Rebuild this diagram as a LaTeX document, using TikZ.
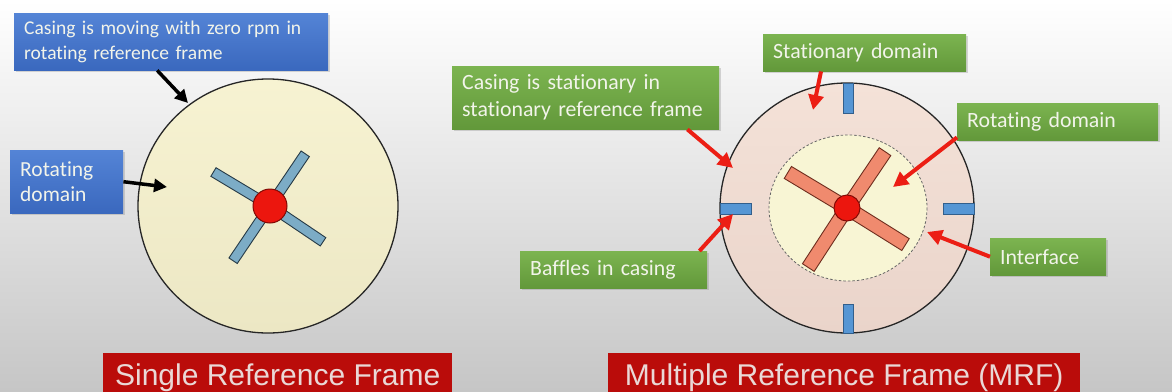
\documentclass[tikz,border=0pt]{standalone}
\usepackage{fontspec}
\setmainfont{Carlito}[Ligatures=NoCommon]
\newfontfamily\titlefont{Liberation Sans}
\usetikzlibrary{arrows.meta,shadows}
\definecolor{bgbottom}{RGB}{198,198,198}
\definecolor{casingyellow}{RGB}{247,243,210}
\definecolor{casingyellowB}{RGB}{236,231,196}
\definecolor{statpink}{RGB}{244,226,216}
\definecolor{statpinkB}{RGB}{234,212,202}
\definecolor{coreyellow}{RGB}{248,245,212}
\definecolor{bladeblue}{RGB}{124,172,198}
\definecolor{bladeblueedge}{RGB}{38,58,70}
\definecolor{bladesalmon}{RGB}{240,138,110}
\definecolor{bladesalmonedge}{RGB}{110,45,30}
\definecolor{hubred}{RGB}{236,22,14}
\definecolor{hubedge}{RGB}{130,10,5}
\definecolor{baffleblue}{RGB}{86,150,212}
\definecolor{baffleedge}{RGB}{50,95,140}
\definecolor{noteblueA}{RGB}{84,132,214}
\definecolor{noteblueB}{RGB}{58,104,190}
\definecolor{notegreenA}{RGB}{124,180,80}
\definecolor{notegreenB}{RGB}{98,152,58}
\definecolor{notetext}{RGB}{242,244,234}
\definecolor{bannerred}{RGB}{186,12,10}
\definecolor{bannertext}{RGB}{234,216,214}
\definecolor{arrowred}{RGB}{236,30,20}

\begin{document}
\begin{tikzpicture}[x=1pt,y=-1pt,
  note/.style={anchor=north west,inner xsep=10pt,inner ysep=0pt,align=left,text=notetext,
    drop shadow={shadow xshift=1.5pt,shadow yshift=-1.5pt,opacity=.3}},
  bluenote/.style={note,top color=noteblueA,bottom color=noteblueB,font=\fontsize{19.5}{24.5}\selectfont},
  greennote/.style={note,top color=notegreenA,bottom color=notegreenB,font=\fontsize{21.8}{27}\selectfont},
  banner/.style={anchor=north west,fill=bannerred,text=bannertext,inner ysep=10pt,
    text height=22pt,text depth=7pt,font=\titlefont\fontsize{30}{36}\selectfont},
  blackarrow/.style={line width=3.5pt,-{Triangle[length=13pt,width=13pt]}},
  redarrow/.style={draw=arrowred,line width=4pt,-{Triangle[length=15pt,width=15pt]}},
  hub/.style={circle,fill=hubred,draw=hubedge,line width=1pt,inner sep=0pt},
  baffle/.style={fill=baffleblue,draw=baffleedge,line width=.8pt}]

\useasboundingbox (0,0) rectangle (1172,391);
\clip (0,0) rectangle (1172,391);
\shade[top color=white,bottom color=bgbottom] (0,0) rectangle (1172,391);

% single reference frame
\shade[top color=casingyellow,bottom color=casingyellowB,draw=black!85,line width=1.3pt]
  (268,206) ellipse [x radius=130,y radius=127];
\begin{scope}[shift={(270,206)}]
\foreach \a/\l in {56/63,149/66,-34/64,-124/66}
  \draw[fill=bladeblue,draw=bladeblueedge,line width=.9pt,rotate=\a] (0,-5) rectangle (\l,5);
\end{scope}
\node[hub,minimum size=34pt] (hubL) at (270,206) {};

% multiple reference frame
\shade[top color=statpink,bottom color=statpinkB,draw=black!85,line width=1.3pt]
  (847,208) ellipse [x radius=127,y radius=125];
\draw[fill=coreyellow,draw=black!60,line width=.8pt,dash pattern=on 2.5pt off 2pt]
  (848,208) ellipse [x radius=79,y radius=73];
\begin{scope}[shift={(847,208)}]
\foreach \a/\l in {56/68,149/69,-32/69,-123/71}
  \draw[fill=bladesalmon,draw=bladesalmonedge,line width=.9pt,rotate=\a] (0,-7) rectangle (\l,7);
\end{scope}
\node[hub,minimum size=26pt] (hubR) at (847,208) {};
\draw[baffle] (843,83) rectangle (853,113);
\draw[baffle] (720,203) rectangle (751,214);
\draw[baffle] (943,203) rectangle (974,214);
\draw[baffle] (843,304) rectangle (853,333);

\node[bluenote,text width=294pt,minimum height=57pt] (casingRot) at (14,13)
  {Casing is moving with zero rpm in\\rotating reference frame};
\node[bluenote,text width=93pt,minimum height=63pt,font=\fontsize{21.5}{25}\selectfont] (rotL) at (10,150)
  {Rotating\\domain};

\node[greennote,text width=247pt,minimum height=63pt] (casingStat) at (452,66)
  {Casing is stationary in\\stationary reference frame};
\node[greennote,text width=183pt,minimum height=37pt] (statDom) at (763,34) {Stationary domain};
\node[greennote,text width=181pt,minimum height=37pt] (rotDom) at (957,103) {Rotating domain};
\node[greennote,text width=167pt,minimum height=37pt] (baffles) at (520,251) {Baffles in casing};
\node[greennote,text width=96pt,minimum height=37pt] (interface) at (990,238) {Interface};

\node[banner,minimum width=349pt] (srf) at (103,353) {Single Reference Frame};
\node[banner,minimum width=472pt] (mrf) at (608,353) {Multiple Reference Frame (MRF)};

\coordinate (rimL) at (188,103);
\coordinate (coreL) at (167,187);
\coordinate (rimR) at (733,168);
\coordinate (ringR) at (813,110);
\coordinate (coreR) at (893,187);
\coordinate (baffleW) at (733,214);
\coordinate (gapR) at (927,232);

\draw[blackarrow] ([xshift=-14pt]casingRot.south) -- (rimL);
\draw[blackarrow] (rotL.east) -- (coreL);
\draw[redarrow] ([xshift=-32pt]casingStat.south east) -- (rimR);
\draw[redarrow] ([xshift=58pt]statDom.south west) -- (ringR);
\draw[redarrow] ([yshift=3pt]rotDom.south west) -- (coreR);
\draw[redarrow] ([xshift=-8pt]baffles.north east) -- (baffleW);
\draw[redarrow] (interface.west) -- (gapR);
\end{tikzpicture}
\end{document}
